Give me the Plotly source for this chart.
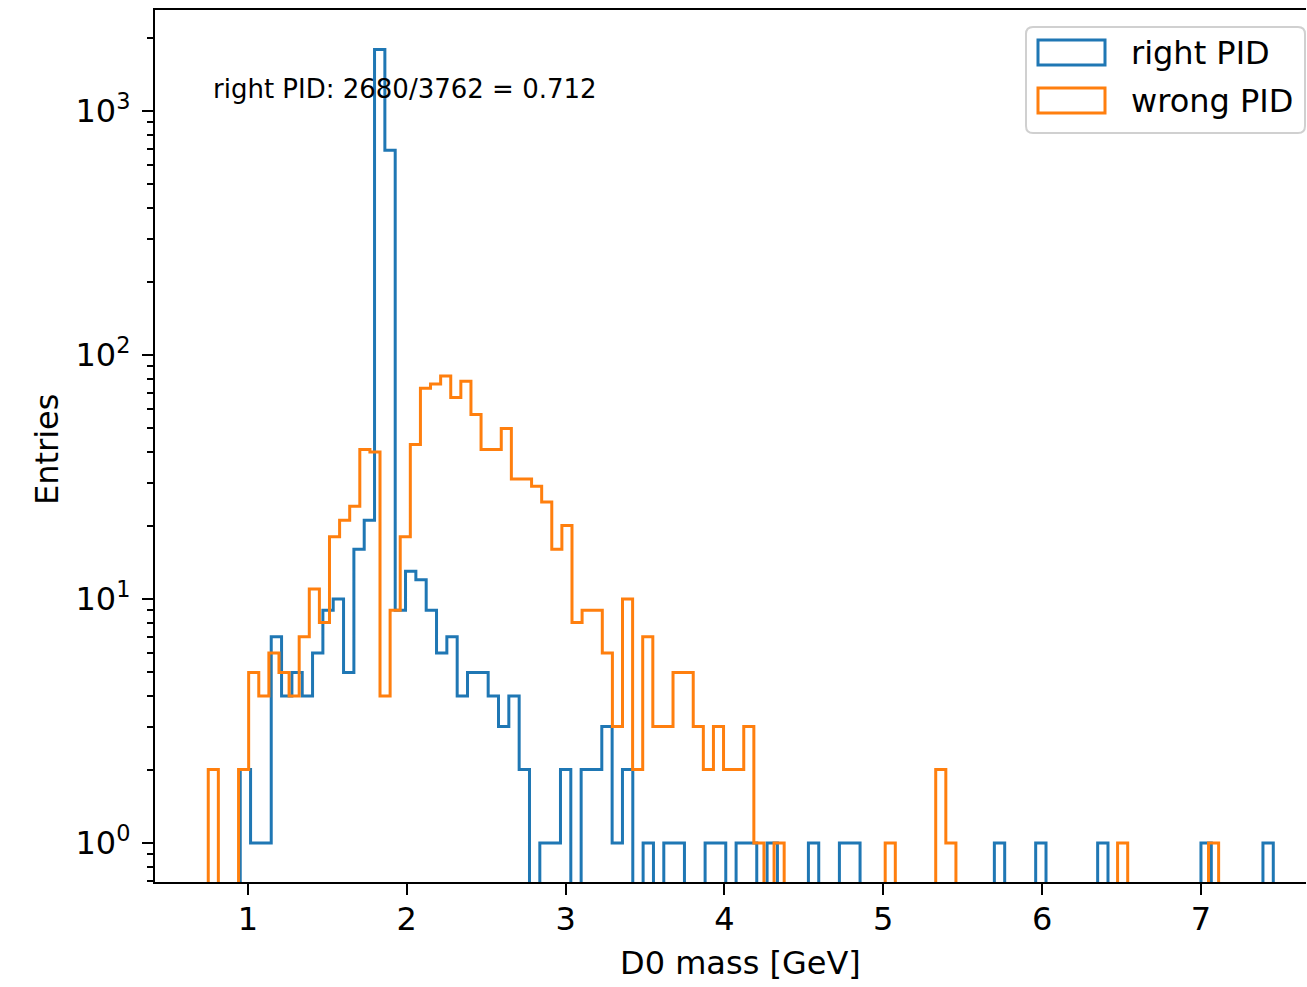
import numpy as np
import plotly.graph_objects as go

# ---------------- data ----------------
n_bins = 100
right_range = (0.952, 7.455)    # D0 mass range of the "right PID" histogram [GeV]
wrong_range = (0.7506, 7.111)   # D0 mass range of the "wrong PID" histogram [GeV]

right_counts = [
    2, 1, 1, 7, 4, 5, 4, 6, 9, 10,
    5, 16, 21, 1786, 690, 9, 13, 12, 9, 6,
    7, 4, 5, 5, 4, 3, 4, 2, 0, 1,
    1, 2, 0, 2, 2, 3, 1, 2, 0, 1,
    0, 1, 1, 0, 0, 1, 1, 0, 1, 1,
    0, 1, 0, 0, 0, 1, 0, 0, 1, 1,
    0, 0, 0, 0, 0, 0, 0, 0, 0, 0,
    0, 0, 0, 1, 0, 0, 0, 1, 0, 0,
    0, 0, 0, 1, 0, 0, 0, 0, 0, 0,
    0, 0, 0, 1, 0, 0, 0, 0, 0, 1,
]
wrong_counts = [
    2, 0, 0, 2, 5, 4, 6, 5, 4, 7,
    11, 8, 18, 21, 24, 41, 40, 4, 9, 18,
    43, 73, 76, 82, 67, 78, 57, 41, 41, 50,
    31, 31, 29, 25, 16, 20, 8, 9, 9, 6,
    3, 10, 2, 7, 3, 3, 5, 5, 3, 2,
    3, 2, 2, 3, 1, 0, 1, 0, 0, 0,
    0, 0, 0, 0, 0, 0, 0, 1, 0, 0,
    0, 0, 2, 1, 0, 0, 0, 0, 0, 0,
    0, 0, 0, 0, 0, 0, 0, 0, 0, 0,
    1, 0, 0, 0, 0, 0, 0, 0, 0, 1,
]
series_names = ["right PID", "wrong PID"]
x_ticks = [1, 2, 3, 4, 5, 6, 7]
y_ticks = [1, 10, 100, 1000]
y_ticktext = ["10<sup>0</sup>", "10<sup>1</sup>", "10<sup>2</sup>", "10<sup>3</sup>"]
y_minor = [0.7, 0.8, 0.9] + [m * d for d in (1, 10, 100) for m in range(2, 10)] + [2000]

n_right = int(sum(right_counts))
n_total = int(sum(right_counts) + sum(wrong_counts))
ratio_text = f"right PID: {n_right}/{n_total} = {n_right / n_total:.3f}"

# ---------------- helpers ----------------
FLOOR = 1e-3  # empty bins drop below the visible log range


def step_outline(counts, rng):
    edges = np.linspace(rng[0], rng[1], n_bins + 1)
    c = [v if v > 0 else FLOOR for v in counts]
    xs, ys = [edges[0]], [FLOOR]
    for i, v in enumerate(c):
        xs += [edges[i], edges[i + 1]]
        ys += [v, v]
    xs.append(edges[-1])
    ys.append(FLOOR)
    return xs, ys


W, H = 1307, 987
L, R, T, B = 155, 1, 10, 105
PW, PH = W - L - R, H - T - B


def px(x):
    return (x - L) / PW


def py(y):
    return (H - B - y) / PH


BLUE, ORANGE = "#1f77b4", "#ff7f0e"
FONT = "DejaVu Sans"
FS = 32

fig = go.Figure()
for counts, rng, col, name in [
    (right_counts, right_range, BLUE, series_names[0]),
    (wrong_counts, wrong_range, ORANGE, series_names[1]),
]:
    xs, ys = step_outline(counts, rng)
    fig.add_trace(go.Scatter(x=xs, y=ys, mode="lines", name=name,
                             line=dict(color=col, width=3),
                             showlegend=False, hoverinfo="skip"))

fig.update_layout(
    width=W, height=H,
    margin=dict(l=L, r=R, t=T, b=B),
    paper_bgcolor="white", plot_bgcolor="white",
    font=dict(family=FONT, size=FS, color="black"),
    showlegend=False,
)
fig.update_xaxes(
    range=[0.4154, 7.661], tickvals=x_ticks, ticks="outside", ticklen=11, tickwidth=2.4,
    tickcolor="black", showline=True, linewidth=2.4, linecolor="black", mirror=True,
    showgrid=False, zeroline=False, ticklabelstandoff=-4,
)
fig.update_yaxes(
    type="log", range=[-0.160, 3.414], tickvals=y_ticks, ticktext=y_ticktext,
    ticks="outside", ticklen=11, tickwidth=2.4, tickcolor="black",
    showline=True, linewidth=2.4, linecolor="black", mirror=False,
    showgrid=False, zeroline=False, ticklabelstandoff=5,
    minor=dict(tickvals=y_minor, ticks="outside", ticklen=6, tickwidth=1.8,
               tickcolor="black", showgrid=False),
)

# ---------------- legend drawn by hand (matplotlib style patches) ----------------
lx0, lx1, ly0, ly1, rad = 1026, 1305, 27, 133, 7
rx, ry = rad / PW, rad / PH
X0, X1, Y0, Y1 = px(lx0), px(lx1), py(ly0), py(ly1)
path = (f"M{X0 + rx},{Y0} L{X1 - rx},{Y0} Q{X1},{Y0} {X1},{Y0 - ry} "
        f"L{X1},{Y1 + ry} Q{X1},{Y1} {X1 - rx},{Y1} L{X0 + rx},{Y1} "
        f"Q{X0},{Y1} {X0},{Y1 + ry} L{X0},{Y0 - ry} Q{X0},{Y0} {X0 + rx},{Y0} Z")
shapes = [dict(type="path", xref="paper", yref="paper", path=path,
               fillcolor="rgba(255,255,255,0.8)", line=dict(color="#d0d0d0", width=2))]
for (yt, yb), col in [((40, 65), BLUE), ((88, 113), ORANGE)]:
    shapes.append(dict(type="rect", xref="paper", yref="paper",
                       x0=px(1038), x1=px(1105), y0=py(yb), y1=py(yt),
                       line=dict(color=col, width=3), fillcolor="rgba(0,0,0,0)"))
fig.update_layout(shapes=shapes)

annotations = [
    dict(text=series_names[0], x=px(1129), y=py(53), xanchor="left", yanchor="middle"),
    dict(text=series_names[1], x=px(1129), y=py(101), xanchor="left", yanchor="middle"),
]
for a in annotations:
    a.update(xref="paper", yref="paper", showarrow=False, font=dict(size=FS, family=FONT))

annotations += [
    dict(text=ratio_text, x=px(211), y=py(89), xanchor="left", yanchor="middle",
         xref="paper", yref="paper", showarrow=False, font=dict(size=26, family=FONT)),
    dict(text="D0 mass [GeV]", x=px(740.5), y=py(963), xanchor="center", yanchor="middle",
         xref="paper", yref="paper", showarrow=False, font=dict(size=FS, family=FONT)),
    dict(text="Entries", x=px(47), y=py(450), xanchor="center", yanchor="middle", textangle=-90,
         xref="paper", yref="paper", showarrow=False, font=dict(size=FS, family=FONT)),
]
fig.update_layout(annotations=annotations)

fig.write_html(
    "out.html",
    config={"displayModeBar": False},
    post_script="document.body.style.margin='0';document.body.style.overflow='hidden';",
)
